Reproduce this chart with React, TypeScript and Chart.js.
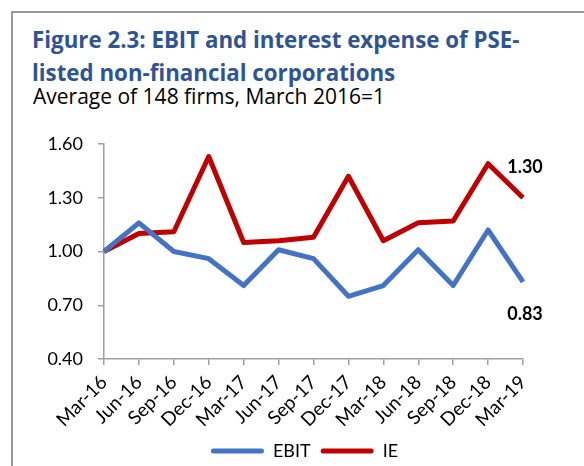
import React, { useEffect, useRef } from "react";
import { Chart, registerables } from "chart.js";

Chart.register(...registerables);

const categories = [
  "Mar-16", "Jun-16", "Sep-16", "Dec-16", "Mar-17", "Jun-17", "Sep-17",
  "Dec-17", "Mar-18", "Jun-18", "Sep-18", "Dec-18", "Mar-19",
];
const ebitValues = [1.0, 1.16, 1.0, 0.96, 0.81, 1.01, 0.96, 0.75, 0.81, 1.01, 0.81, 1.12, 0.83];
const ieValues = [1.0, 1.1, 1.11, 1.53, 1.05, 1.06, 1.08, 1.42, 1.06, 1.16, 1.17, 1.49, 1.3];
const yTickValues = [0.4, 0.7, 1.0, 1.3, 1.6];

const FONT = "Lato";
const TITLE_FONT = "'Open Sans'";

const endLabels = {
  id: "endLabels",
  afterDatasetsDraw(chart: any) {
    const ctx = chart.ctx;
    ctx.save();
    ctx.font = `bold 18px ${FONT}`;
    ctx.fillStyle = "#000";
    ctx.textAlign = "center";
    ctx.textBaseline = "middle";
    chart.data.datasets.forEach((ds: any, i: number) => {
      const meta = chart.getDatasetMeta(i);
      const pt = meta.data[meta.data.length - 1];
      const v = ds.data[ds.data.length - 1];
      const dy = i === 0 ? 32 : -31;
      ctx.fillText(Number(v).toFixed(2), pt.x + 2, pt.y + dy);
    });
    ctx.restore();
  },
};

export default function App() {
  const ref = useRef<HTMLCanvasElement | null>(null);

  useEffect(() => {
    if (!ref.current) return;
    const axisColor = "#A0A0A0";
    const chart = new Chart(ref.current, {
      type: "line",
      data: {
        labels: categories,
        datasets: [
          {
            label: "EBIT",
            data: ebitValues,
            borderColor: "#4472C4",
            backgroundColor: "#4472C4",
            borderWidth: 5,
            pointRadius: 0,
            tension: 0,
            borderJoinStyle: "round",
          },
          {
            label: "IE",
            data: ieValues,
            borderColor: "#C00000",
            backgroundColor: "#C00000",
            borderWidth: 5,
            pointRadius: 0,
            tension: 0,
            borderJoinStyle: "round",
          },
        ],
      },
      options: {
        responsive: false,
        animation: false,
        devicePixelRatio: 1,
        layout: { padding: { top: 144, left: 45, right: 20, bottom: 20 } },
        plugins: {
          title: { display: false },
          tooltip: { enabled: false },
          legend: {
            position: "bottom",
            labels: {
              font: { family: FONT, size: 18 },
              color: "#000",
              boxWidth: 53,
              boxHeight: 5,
              padding: 10,
              generateLabels: (chart: any) =>
                chart.data.datasets.map((ds: any, i: number) => ({
                  text: ds.label,
                  fillStyle: ds.borderColor,
                  strokeStyle: "transparent",
                  lineWidth: 0,
                  borderRadius: 2.5,
                  hidden: false,
                  datasetIndex: i,
                  fontColor: "#000",
                })),
            },
          },
        },
        scales: {
          x: {
            offset: false,
            grid: {
              display: true,
              drawOnChartArea: false,
              drawTicks: true,
              tickLength: 6,
              color: axisColor,
              lineWidth: 1.5,
            },
            border: { display: true, color: axisColor, width: 1.5 },
            ticks: {
              autoSkip: false,
              maxRotation: 45,
              minRotation: 45,
              padding: 6,
              color: "#000",
              font: { family: FONT, size: 19 },
            },
            afterFit: (scale: any) => {
              scale.height = 73;
            },
          },
          y: {
            min: 0.4,
            max: 1.6,
            grid: {
              display: true,
              drawOnChartArea: false,
              drawTicks: true,
              tickLength: 6,
              color: axisColor,
              lineWidth: 1.5,
            },
            border: { display: true, color: axisColor, width: 1.5 },
            ticks: {
              padding: 15,
              color: "#000",
              font: { family: FONT, size: 18 },
              callback: (v: any) => Number(v).toFixed(2),
            },
            afterBuildTicks: (scale: any) => {
              scale.ticks = yTickValues.map((v) => ({ value: v }));
            },
            afterFit: (scale: any) => {
              scale.width = 59;
            },
          },
          yRightSpacer: {
            type: "linear",
            position: "right",
            display: true,
            min: 0.4,
            max: 1.6,
            grid: { display: false, drawTicks: false },
            border: { display: false },
            ticks: { display: false },
            afterFit: (scale: any) => {
              scale.width = 41;
            },
          },
        },
      },
      plugins: [endLabels],
    });
    return () => chart.destroy();
  }, []);

  return (
    <div
      style={{
        position: "fixed",
        left: 0,
        top: 0,
        width: 584,
        height: 466,
        overflow: "hidden",
        background: "#fff",
      }}
    >
      <div
        style={{
          position: "absolute",
          left: 11,
          top: 11,
          width: 700,
          height: 600,
          borderTop: "2px solid #999",
          borderLeft: "2px solid #999",
        }}
      />
      <div
        style={{
          position: "absolute",
          left: 32,
          top: 23,
          fontFamily: TITLE_FONT,
          fontWeight: 700,
          fontSize: 22.3,
          lineHeight: "33px",
          color: "#2F5496",
          whiteSpace: "nowrap",
        }}
      >
        <div>Figure 2.3: EBIT and interest expense of PSE-</div>
        <div>listed non-financial corporations</div>
      </div>
      <div
        style={{
          position: "absolute",
          left: 33,
          top: 85,
          fontFamily: TITLE_FONT,
          fontSize: 21,
          lineHeight: "22px",
          color: "#000",
          whiteSpace: "nowrap",
        }}
      >
        Average of 148 firms, March 2016=1
      </div>
      <canvas
        ref={ref}
        width={584}
        height={490}
        style={{ position: "absolute", left: 0, top: 0, width: 584, height: 490 }}
      />
    </div>
  );
}
